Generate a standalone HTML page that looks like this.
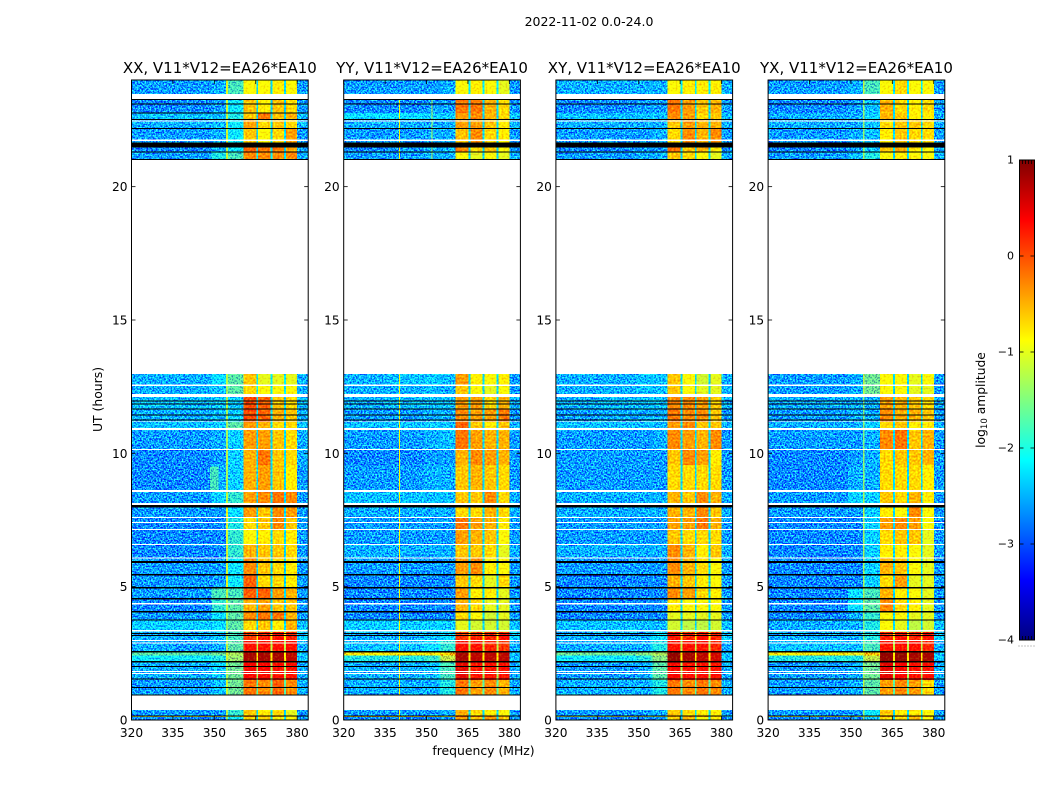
<!DOCTYPE html>
<html lang="en">
<head>
<meta charset="utf-8">
<title>2022-11-02 0.0-24.0</title>
<style>
html,body{margin:0;padding:0;background:#fff;width:1050px;height:800px;overflow:hidden}
svg{display:block}
text{font-family:"DejaVu Sans","Liberation Sans",sans-serif;fill:#000}
</style>
</head>
<body>
<svg id="chart" width="1050" height="800" viewBox="0 0 1050 800" xmlns="http://www.w3.org/2000/svg">
  <defs>
    <filter id="speckle" x="0" y="0" width="100%" height="100%" color-interpolation-filters="sRGB">
      <feTurbulence type="fractalNoise" baseFrequency="0.62" numOctaves="2" seed="7" result="n"/>
      <feColorMatrix in="n" type="matrix" values="0.8 0 0 0 0.1  2.6 0 0 0 -0.8  0 0 0 0 0.5  0 0 0 0 1" result="c"/>
      <feComposite in="SourceGraphic" in2="c" operator="arithmetic" k1="0" k2="1" k3="1" k4="-0.5" result="m"/>
      <feComposite in="m" in2="SourceAlpha" operator="in"/>
    </filter>
    <filter id="speckle-soft" x="0" y="0" width="100%" height="100%" color-interpolation-filters="sRGB">
      <feTurbulence type="fractalNoise" baseFrequency="0.5" numOctaves="1" seed="11" result="n"/>
      <feColorMatrix in="n" type="matrix" values="0.1 0 0 0 0.45  0.8 0 0 0 0.1  0 0 0 0 0.5  0 0 0 0 1" result="c"/>
      <feComposite in="SourceGraphic" in2="c" operator="arithmetic" k1="0" k2="1" k3="1" k4="-0.5" result="m"/>
      <feComposite in="m" in2="SourceAlpha" operator="in"/>
    </filter>
    <linearGradient id="jet-gradient" x1="0" y1="1" x2="0" y2="0"></linearGradient>
  </defs>
  <text x="589" y="26" text-anchor="middle" font-size="12.5">2022-11-02 0.0-24.0</text>
  <text x="483.5" y="755" text-anchor="middle" font-size="12.4">frequency (MHz)</text>
  <text transform="translate(102,399.5) rotate(-90)" text-anchor="middle" font-size="12.4">UT (hours)</text>
  <text transform="translate(985,400) rotate(-90)" text-anchor="middle" font-size="12.3">log<tspan font-size="8.6" dy="2">10</tspan><tspan dy="-2"> amplitude</tspan></text>
  <g id="panels"></g>
  <g id="colorbar"></g>
</svg>
<script>
// Panel titles
const panelTitles = ["XX, V11*V12=EA26*EA10", "YY, V11*V12=EA26*EA10", "XY, V11*V12=EA26*EA10", "YX, V11*V12=EA26*EA10"];
// Axis tick labels
const freqTicks = [320, 335, 350, 365, 380];
const hourTicks = [0, 5, 10, 15, 20];
const colorTicks = [-4, -3, -2, -1, 0, 1];
// Frequency columns of the heatmap (MHz)
const colStart = [320, 335, 349, 354.3, 355, 360.5, 365.9, 371, 376, 380];
const colEnd = [335, 349, 354.3, 355, 360.5, 365.2, 370.3, 375.3, 380, 384];
// Which columns are the strong subbands (drawn with less speckle)
const strongCols = [3, 5, 6, 7, 8];
// Narrow channels between subbands (MHz); they use the last value in each row
const gapStart = [365.2, 370.3, 375.3];
const gapEnd = [365.9, 371, 376];
// Time bands (UT hours); anything not covered is left blank
const bandHi = [24,23.29,22.76,22.5,22.2,21.47,21.3,12.98,12.53,12.11,11.66,11.18,10.88,10.12,9.56,8.55,7.99,7.61,7.13,6.56,6.08,5.44,4.95,4.54,4.05,3.75,3.3,2.96,2.59,2.41,2.18,1.5,0.38,0.17,0.11];
const bandLo = [23.47,22.76,22.5,22.2,21.64,21.3,21,12.56,12.23,11.66,11.18,10.95,10.16,9.56,8.63,8.1,7.61,7.13,6.56,6.08,5.44,4.95,4.54,4.05,3.75,3.3,2.96,2.59,2.41,2.18,1.5,0.94,0.17,0.11,0];
// Flagged (black) time samples, UT hours
const flagHi = [23.29,23.12,22.54,22.2,21.66,21.32,21.03,11.98,11.87,11.68,11.46,11.27,8.06,5.96,5.47,4.99,4.58,4.09,3.77,3.26,3.19,2.59,2.21,2.02,1.56,1.24,0.96,0.17];
const flagLo = [23.25,23.08,22.5,22.16,21.47,21.28,21,11.94,11.83,11.64,11.42,11.23,7.97,5.89,5.42,4.93,4.52,4.03,3.73,3.22,3.15,2.53,2.16,1.99,1.52,1.2,0.92,0.13];
// Missing (white) time samples, UT hours
const blankHi = [22.48,21.77,12.58,11.19,8.14,7.62,7.42,7.16,6.6,6.09,4.39,3.37,3,2.91,1.84,1.76];
const blankLo = [22.44,21.71,12.53,11.17,8.1,7.58,7.38,7.12,6.56,6.05,4.33,3.32,2.96,2.87,1.8,1.72];
// Extra flagged sample seen only in the XX panel
const xxFlagHi = [22.78];
const xxFlagLo = [22.74];
// Narrow bump in XX around 8.6-9.5 h: MHz range, hours, amplitude (tenths)
const xxBumpMHz = [348.5, 351.5];
const xxBumpHours = [9.5, 8.63];
const xxBumpAmp = [-18];
// Single narrowband channels in YY: MHz and amplitude (tenths of log10)
const yyLineMHz = [340, 351.8];
const yyLineAmp = [-9, -13];
// Amplitudes: log10 x 10. Columns: colStart order, then gap channels
const ampXX = [
[-26,-26,-25,-10,-18,-9,-9,-8,-9,-26,-23],
[-27,-27,-26,-11,-21,-6,-8,-6,-7,-26,-23],
[-24,-24,-24,-12,-20,-6,-2,-6,-5,-24,-23],
[-25,-25,-24,-11,-21,-4,-7,-6,-7,-25,-23],
[-26,-26,-25,-11,-21,-6,-9,-7,-4,-26,-23],
[-27,-27,-25,-12,-21,-1,-2,-2,-4,-26,-23],
[-26,-26,-20,-11,-18,-3,-3,-3,-3,-25,-22],
[-25,-25,-22,-12,-17,-6,-10,-10,-10,-25,-22],
[-25,-25,-24,-13,-17,-7,-9,-9,-9,-25,-22],
[-24,-24,-23,-12,-23,0,-1,-6,-7,-24,-23],
[-25,-25,-24,-13,-23,0,-1,-5,-6,-25,-23],
[-24,-24,-23,-13,-17,-4,-5,-7,-7,-24,-23],
[-26,-26,-25,-13,-23,-4,-4,-6,-7,-25,-23],
[-27,-27,-26,-12,-23,-5,-2,-6,-7,-25,-23],
[-27,-27,-25,-13,-23,-5,-4,-6,-8,-26,-23],
[-26,-26,-23,-12,-19,-4,-3,-2,-3,-26,-23],
[-26,-26,-26,-10,-22,-4,-6,-3,-4,-26,-23],
[-27,-27,-27,-11,-20,-7,-6,-3,-6,-26,-23],
[-27,-27,-27,-11,-19,-9,-8,-7,-8,-26,-23],
[-27,-27,-27,-11,-19,-5,-6,-6,-7,-26,-23],
[-26,-26,-26,-11,-21,-3,-6,-7,-8,-26,-23],
[-26,-26,-26,-10,-21,-1,-7,-7,-8,-26,-23],
[-26,-26,-18,-12,-18,-1,-1,-4,-5,-26,-23],
[-27,-27,-19,-12,-17,-5,-4,-6,-6,-26,-23],
[-26,-26,-22,-13,-17,-3,-2,-2,-5,-26,-23],
[-23,-23,-22,-14,-17,-7,-6,-8,-5,-24,-23],
[-25,-25,-24,-13,-18,1,2,3,2,-23,-8],
[-25,-26,-25,-12,-17,3,3,3,3,-25,-12],
[-17,-17,-16,-10,-13,8,8,8,7,-24,-8],
[-21,-21,-20,-11,-14,8,8,8,7,-24,-8],
[-25,-25,-23,-13,-16,4,4,3,3,-25,-13],
[-26,-26,-24,-11,-16,-2,-3,-1,-3,-25,-17],
[-26,-26,-26,-12,-19,-6,-8,-7,-10,-26,-23],
[-10,-10,-10,-10,-14,-2,-4,-4,-8,-25,-22],
[-27,-27,-27,-14,-21,-7,-7,-9,-8,-26,-23]
];
const ampYY = [
[-26,-26,-26,-26,-25,-9,-8,-9,-10,-26,-22],
[-27,-27,-26,-26,-26,-2,-2,-5,-7,-26,-23],
[-22,-22,-23,-23,-23,-4,-3,-5,-7,-24,-23],
[-25,-25,-25,-25,-25,-4,-4,-6,-8,-25,-23],
[-26,-26,-25,-25,-25,-6,-3,-7,-8,-26,-23],
[-27,-26,-25,-25,-25,-3,-7,-6,-9,-26,-23],
[-26,-26,-25,-25,-25,-9,-10,-9,-10,-25,-23],
[-25,-24,-23,-24,-24,-4,-8,-9,-8,-26,-23],
[-25,-25,-24,-25,-25,-6,-9,-10,-9,-26,-23],
[-25,-24,-24,-24,-24,-4,-4,-7,-5,-25,-23],
[-26,-26,-25,-25,-25,-3,-4,-4,-2,-26,-23],
[-24,-24,-23,-24,-24,-1,-6,-8,-6,-25,-23],
[-26,-26,-25,-25,-24,-2,-4,-5,-5,-26,-23],
[-27,-27,-26,-26,-26,-5,-3,-4,-5,-26,-23],
[-26,-26,-25,-25,-25,-6,-5,-6,-7,-26,-23],
[-24,-24,-24,-24,-24,-6,-6,-3,-7,-25,-23],
[-25,-25,-25,-25,-25,-7,-7,-5,-7,-25,-23],
[-26,-26,-26,-26,-26,-2,-4,-5,-8,-26,-23],
[-26,-26,-26,-26,-26,-4,-5,-6,-9,-26,-23],
[-25,-25,-25,-25,-25,-6,-6,-7,-10,-25,-23],
[-26,-26,-26,-26,-26,-4,-3,-8,-9,-26,-23],
[-27,-27,-27,-27,-27,-6,-7,-10,-7,-26,-23],
[-27,-27,-27,-27,-27,-4,-8,-8,-10,-26,-23],
[-27,-27,-27,-27,-27,-5,-7,-10,-10,-26,-23],
[-27,-27,-27,-27,-27,-7,-9,-11,-10,-26,-23],
[-23,-23,-23,-23,-23,-10,-11,-11,-11,-24,-23],
[-25,-25,-24,-24,-22,1,2,2,3,-23,-8],
[-24,-24,-22,-21,-19,3,3,2,1,-25,-12],
[-9,-9,-9,-8,-6,8,7,7,7,-24,-8],
[-20,-20,-19,-17,-12,8,7,7,7,-24,-8],
[-25,-25,-24,-22,-18,5,3,3,3,-25,-13],
[-25,-25,-25,-24,-20,-2,-4,-3,-5,-25,-17],
[-26,-26,-26,-26,-25,-5,-7,-8,-9,-26,-23],
[-7,-7,-7,-8,-10,0,-2,-2,-4,-24,-22],
[-27,-27,-27,-27,-26,-4,-6,-4,-6,-26,-23]
];
const ampXY = [
[-25,-25,-25,-25,-25,-9,-8,-8,-8,-25,-22],
[-27,-27,-26,-26,-26,-2,-4,-6,-5,-26,-23],
[-24,-24,-24,-24,-24,-3,-4,-7,-6,-24,-23],
[-25,-25,-25,-25,-25,-6,-4,-5,-5,-25,-23],
[-26,-26,-26,-26,-25,-7,-3,-5,-3,-26,-23],
[-27,-27,-26,-26,-26,-2,-6,-5,-8,-26,-23],
[-26,-26,-25,-25,-25,-6,-7,-9,-10,-25,-23],
[-25,-25,-24,-24,-24,-6,-9,-11,-10,-25,-23],
[-25,-25,-24,-24,-24,-6,-9,-10,-10,-25,-23],
[-25,-24,-24,-24,-24,-3,-3,-4,-6,-25,-23],
[-26,-25,-25,-25,-25,-2,-3,-3,-6,-26,-23],
[-24,-24,-24,-24,-24,-4,-3,-6,-6,-25,-23],
[-26,-26,-26,-26,-25,-3,-4,-5,-3,-26,-23],
[-26,-26,-26,-26,-26,-6,-3,-4,-8,-26,-23],
[-26,-26,-26,-26,-26,-7,-7,-7,-7,-26,-23],
[-25,-25,-25,-25,-25,-5,-6,-3,-5,-25,-23],
[-25,-25,-25,-25,-25,-5,-5,-3,-6,-25,-23],
[-26,-26,-26,-26,-26,-4,-4,-2,-5,-26,-23],
[-26,-26,-26,-26,-26,-6,-7,-7,-7,-26,-23],
[-25,-25,-25,-25,-25,-3,-5,-8,-6,-25,-23],
[-26,-26,-26,-26,-26,-3,-5,-7,-9,-26,-23],
[-27,-27,-27,-27,-27,-5,-6,-8,-9,-26,-23],
[-27,-27,-27,-27,-27,-3,-4,-7,-8,-26,-23],
[-27,-27,-27,-27,-27,-8,-9,-9,-9,-26,-23],
[-27,-27,-27,-27,-27,-10,-10,-10,-10,-26,-23],
[-24,-24,-24,-24,-24,-11,-12,-12,-11,-24,-23],
[-25,-25,-25,-24,-22,3,2,3,2,-23,-8],
[-25,-25,-25,-23,-20,3,3,3,2,-25,-12],
[-16,-16,-15,-14,-13,9,8,7,6,-24,-8],
[-21,-21,-20,-18,-15,9,8,7,6,-24,-8],
[-26,-26,-25,-23,-17,4,3,3,3,-25,-13],
[-25,-25,-25,-24,-20,-2,-3,-2,-3,-25,-17],
[-26,-26,-26,-26,-25,-6,-7,-8,-8,-26,-23],
[-12,-12,-12,-12,-12,-3,-3,-3,-5,-24,-22],
[-27,-27,-27,-27,-26,-7,-5,-9,-8,-26,-23]
];
const ampYX = [
[-26,-26,-25,-12,-18,-9,-7,-9,-9,-26,-22],
[-27,-27,-26,-14,-24,-5,-7,-8,-7,-26,-23],
[-25,-25,-25,-14,-23,-5,-6,-8,-8,-25,-23],
[-25,-25,-25,-14,-24,-7,-6,-6,-7,-25,-23],
[-26,-26,-25,-14,-24,-8,-6,-7,-7,-26,-23],
[-27,-27,-26,-13,-24,-6,-5,-8,-9,-26,-23],
[-26,-26,-24,-13,-20,-9,-8,-9,-9,-25,-23],
[-26,-26,-25,-12,-16,-9,-9,-10,-9,-26,-23],
[-26,-26,-25,-12,-16,-9,-9,-10,-10,-26,-23],
[-25,-25,-25,-15,-25,-4,-5,-6,-7,-25,-23],
[-26,-26,-25,-15,-25,-3,-5,-5,-6,-26,-23],
[-25,-25,-25,-14,-23,-7,-6,-8,-8,-25,-23],
[-26,-26,-26,-15,-25,-3,-2,-6,-5,-26,-23],
[-27,-27,-26,-14,-25,-7,-6,-6,-5,-26,-23],
[-27,-27,-25,-14,-25,-7,-7,-7,-8,-26,-23],
[-26,-26,-23,-13,-23,-6,-7,-5,-8,-26,-23],
[-26,-26,-26,-12,-23,-8,-9,-3,-9,-26,-23],
[-27,-27,-27,-13,-23,-4,-3,-4,-9,-26,-23],
[-27,-27,-27,-13,-23,-7,-6,-6,-10,-26,-23],
[-27,-27,-27,-13,-23,-8,-8,-9,-10,-26,-23],
[-27,-27,-27,-13,-23,-5,-6,-9,-10,-26,-23],
[-27,-27,-27,-13,-23,-7,-4,-10,-10,-26,-23],
[-27,-27,-22,-13,-18,-5,-8,-9,-10,-26,-23],
[-27,-27,-22,-13,-17,-3,-7,-8,-10,-26,-23],
[-27,-27,-25,-14,-19,-9,-9,-10,-10,-26,-23],
[-25,-25,-25,-15,-20,-9,-10,-12,-11,-24,-23],
[-25,-25,-25,-14,-20,2,3,2,3,-23,-8],
[-24,-24,-24,-14,-18,3,3,3,2,-25,-12],
[-9,-9,-10,-10,-6,9,9,8,8,-24,-8],
[-20,-20,-20,-14,-12,9,9,8,8,-24,-8],
[-26,-26,-25,-13,-16,5,4,3,3,-25,-13],
[-26,-26,-25,-12,-17,-4,-3,-4,-7,-26,-17],
[-26,-26,-26,-14,-21,-6,-8,-8,-9,-26,-23],
[-11,-11,-11,-11,-12,-3,-3,-3,-5,-24,-22],
[-27,-27,-27,-14,-24,-7,-8,-6,-9,-26,-23]
];
const panelAmps = [ampXX, ampYY, ampXY, ampYX];

const NS = 'http://www.w3.org/2000/svg';
const panelsRoot = document.getElementById('panels');
const barRoot = document.getElementById('colorbar');

// Axis functions
function xScale(panel, mhz) { return 131.5 + 212.2 * panel + (mhz - 320) * 176.7 / 64; }
function yScale(hours) { return 720 - hours * 640 / 24; }
function colorY(v) { return 640 - (v + 4) * 96; }
function chan(t) { return Math.max(0, Math.min(1, t)); }
function jet(v) {
  const f = chan((v + 4) / 5);
  const r = chan(1.5 - Math.abs(4 * f - 3));
  const g = chan(1.5 - Math.abs(4 * f - 2));
  const b = chan(1.5 - Math.abs(4 * f - 1));
  return 'rgb(' + Math.round(r * 255) + ',' + Math.round(g * 255) + ',' + Math.round(b * 255) + ')';
}
function shape(parent, tag, attrs) {
  const el = document.createElementNS(NS, tag);
  for (const k in attrs) el.setAttribute(k, attrs[k]);
  parent.appendChild(el);
  return el;
}
function cell(parent, panel, loMHz, hiMHz, hourHi, hourLo, fill) {
  return shape(parent, 'rect', {
    x: xScale(panel, loMHz), width: xScale(panel, hiMHz) - xScale(panel, loMHz),
    y: yScale(hourHi), height: yScale(hourLo) - yScale(hourHi),
    fill: fill, 'shape-rendering': 'crispEdges'
  });
}
function hLine(parent, panel, hourHi, hourLo, fill) {
  return cell(parent, panel, 320, 384, hourHi, hourLo, fill);
}

panelTitles.forEach(function (title, p) {
  const group = shape(panelsRoot, 'g', {});
  
  

  const heatLow = shape(group, 'g', { filter: 'url(#speckle)' });
  
  
  const heatHot = shape(group, 'g', { filter: 'url(#speckle-soft)' });
  
  

  panelAmps[p].forEach(function (row, r) {
    colStart.forEach(function (start, c) {
      const target = strongCols.indexOf(c) >= 0 ? heatHot : heatLow;
      const rc = cell(target, p, start, colEnd[c], bandHi[r], bandLo[r], jet(row[c] / 10));
      
      
    });
    gapStart.forEach(function (start, g) {
      const gc = cell(heatHot, p, start, gapEnd[g], bandHi[r], bandLo[r], jet(row[10] / 10));
      
      
    });
    if (p === 1 && r > 0) {
      yyLineMHz.forEach(function (mhz, i) {
        if (i === 1 && r > 6) return;
        const lc = cell(heatHot, p, mhz, mhz + 0.4, bandHi[r], bandLo[r], jet(yyLineAmp[i] / 10));
        
        
      });
    }
  });
  if (p === 0) {
    const bump = cell(heatLow, p, xxBumpMHz[0], xxBumpMHz[1], xxBumpHours[0], xxBumpHours[1], jet(xxBumpAmp[0] / 10));
    
    
  }

  blankHi.forEach(function (hi, i) {
    const w = hLine(group, p, hi, blankLo[i], '#fff');
    
    
  });
  flagHi.forEach(function (hi, i) {
    const k = hLine(group, p, hi, flagLo[i], '#000');
    
    
  });
  if (p === 0) {
    xxFlagHi.forEach(function (hi, i) {
      const k = hLine(group, p, hi, xxFlagLo[i], '#000');
      
      
    });
  }

  const left = xScale(p, 320), right = xScale(p, 384), top = yScale(24), bottom = yScale(0);

  freqTicks.forEach(function (mhz) {
    const x = xScale(p, mhz);
    const t1 = shape(group, 'line', { x1: x, x2: x, y1: bottom, y2: bottom - 4, stroke: '#000', 'stroke-width': 0.8 });
    
    
    const t2 = shape(group, 'line', { x1: x, x2: x, y1: top, y2: top + 4, stroke: '#000', 'stroke-width': 0.8 });
    
    
    const lab = shape(group, 'text', { x: x, y: 737, 'text-anchor': 'middle', 'font-size': 12.2 });
    lab.textContent = String(mhz);
    
    
  });
  hourTicks.forEach(function (h) {
    const y = yScale(h);
    const t1 = shape(group, 'line', { x1: left, x2: left + 4, y1: y, y2: y, stroke: '#000', 'stroke-width': 0.8 });
    
    
    const t2 = shape(group, 'line', { x1: right, x2: right - 4, y1: y, y2: y, stroke: '#000', 'stroke-width': 0.8 });
    
    
    const lab = shape(group, 'text', { x: left - 4, y: y + 4.5, 'text-anchor': 'end', 'font-size': 12.2 });
    lab.textContent = String(h);
    
    
  });

  const frame = shape(group, 'rect', { x: left, y: top, width: right - left, height: bottom - top, fill: 'none', stroke: '#000', 'stroke-width': 1 });
  
  

  const tt = shape(group, 'text', { x: (left + right) / 2, y: 73, 'text-anchor': 'middle', 'font-size': 15 });
  tt.textContent = title;
  
  
});

// Colorbar
const grad = document.getElementById('jet-gradient');
for (let i = 0; i <= 40; i++) {
  shape(grad, 'stop', { offset: (i / 40), 'stop-color': jet(-4 + 5 * i / 40) });
}
const barLeft = 1019.5, barRight = 1034.5;
const barFill = shape(barRoot, 'rect', { x: barLeft, y: colorY(1), width: barRight - barLeft, height: colorY(-4) - colorY(1), fill: 'url(#jet-gradient)', stroke: '#000', 'stroke-width': 1 });


colorTicks.forEach(function (v) {
  const y = colorY(v);
  const a = shape(barRoot, 'line', { x1: barLeft, x2: barLeft + 4, y1: y, y2: y, stroke: '#000', 'stroke-width': 0.8 });
  
  
  const b = shape(barRoot, 'line', { x1: barRight, x2: barRight - 4, y1: y, y2: y, stroke: '#000', 'stroke-width': 0.8 });
  
  
  const lab = shape(barRoot, 'text', { x: 1014, y: y + 3.5, 'text-anchor': 'end', 'font-size': 11 });
  lab.textContent = v < 0 ? '\u2212' + Math.abs(v) : String(v);
  
  
});
[0, 1, 2, 3, 4, 5].forEach(function (i) {
  const x = barLeft + i * 3;
  const t1 = shape(barRoot, 'line', { x1: x, x2: x, y1: colorY(1), y2: colorY(1) + 4, stroke: '#000', 'stroke-width': 0.8 });
  
  
  const t2 = shape(barRoot, 'line', { x1: x, x2: x, y1: colorY(-4), y2: colorY(-4) - 4, stroke: '#000', 'stroke-width': 0.8 });
  
  
  const d = shape(barRoot, 'rect', { x: x - 1, y: 645.5, width: 1, height: 1, fill: '#888' });
  
  
});
</script>
</body>
</html>
